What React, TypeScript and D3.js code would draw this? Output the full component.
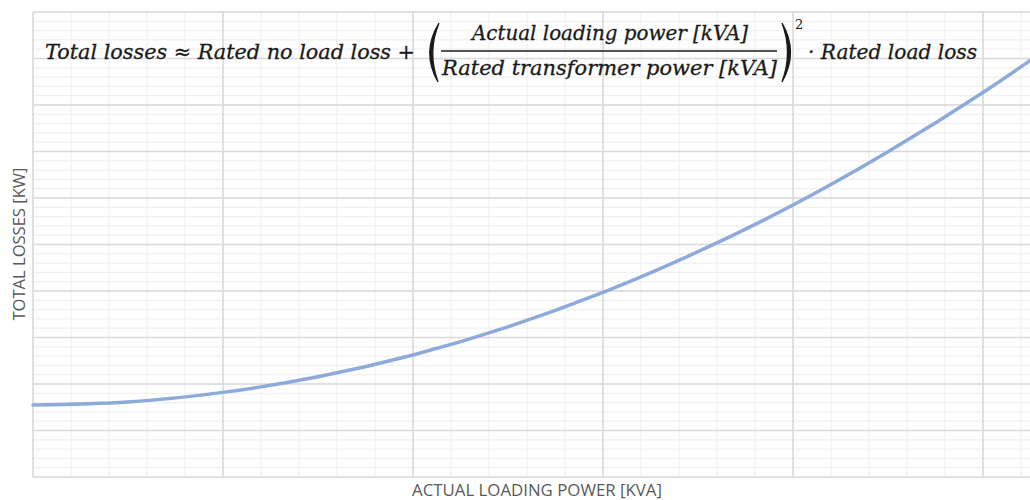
import React, { useRef, useEffect } from "react"
import * as d3 from "d3"

// actual loading power [kVA] and total losses [kW]
const loadingKVA = [0, 100, 200, 300, 400, 500, 600, 700, 800, 900, 1000, 1100]
const totalLossKW = [3.1, 3.23, 3.64, 4.31, 5.25, 6.46, 7.94, 9.69, 11.7, 13.99, 16.54, 19.36]

const xMajorTicks = d3.range(0, 1101, 200)
const xMinorTicks = d3.range(0, 1101, 40)
const yMajorTicks = d3.range(0, 20.01, 2)
const yMinorTicks = d3.range(0, 20.01, 0.4)

const xTitle = "ACTUAL LOADING POWER [KVA]"
const yTitle = "TOTAL LOSSES [KW]"

function App() {
  const ref = useRef()
  const width = 1030,
    height = 500

  useEffect(() => {
    const svg = d3.select(ref.current)
    svg.selectAll("*").remove()

    const x = d3.scaleLinear().domain([0, 1000]).range([33, 983])
    const y = d3.scaleLinear().domain([0, 20]).range([477, 12])

    const grid = svg.append("g")
    grid
      .selectAll(".vminor")
      .data(xMinorTicks)
      .join("line")
      .attr("x1", d => x(d))
      .attr("x2", d => x(d))
      .attr("y1", y(20))
      .attr("y2", y(0))
      .attr("stroke", "#f0f0f0")
      .attr("stroke-width", 1.2)
    grid
      .selectAll(".hminor")
      .data(yMinorTicks)
      .join("line")
      .attr("x1", x(0))
      .attr("x2", width)
      .attr("y1", d => y(d))
      .attr("y2", d => y(d))
      .attr("stroke", "#f0f0f0")
      .attr("stroke-width", 1.2)
    grid
      .append("g")
      .selectAll("line")
      .data(xMajorTicks)
      .join("line")
      .attr("x1", d => x(d))
      .attr("x2", d => x(d))
      .attr("y1", y(20))
      .attr("y2", y(0))
      .attr("stroke", "#d9d9d9")
      .attr("stroke-width", 1.5)
    grid
      .append("g")
      .selectAll("line")
      .data(yMajorTicks)
      .join("line")
      .attr("x1", x(0))
      .attr("x2", width)
      .attr("y1", d => y(d))
      .attr("y2", d => y(d))
      .attr("stroke", "#d9d9d9")
      .attr("stroke-width", 1.5)

    const line = d3
      .line()
      .x((d, i) => x(loadingKVA[i]))
      .y(d => y(d))
      .curve(d3.curveMonotoneX)

    svg
      .append("path")
      .datum(totalLossKW)
      .attr("d", line)
      .attr("fill", "none")
      .attr("stroke", "#8eaadb")
      .attr("stroke-width", 3.5)
      .attr("stroke-linecap", "round")

    // axis titles
    svg
      .append("text")
      .attr("x", 537)
      .attr("y", 496)
      .attr("text-anchor", "middle")
      .attr("font-family", "'Open Sans', sans-serif")
      .attr("font-size", 15.5)
      .attr("fill", "#595959")
      .attr("textLength", 250)
      .attr("lengthAdjust", "spacingAndGlyphs")
      .text(xTitle)
    svg
      .append("text")
      .attr("transform", "translate(25,244) rotate(-90)")
      .attr("text-anchor", "middle")
      .attr("font-family", "'Open Sans', sans-serif")
      .attr("font-size", 15.5)
      .attr("fill", "#595959")
      .attr("textLength", 153)
      .attr("lengthAdjust", "spacingAndGlyphs")
      .text(yTitle)

    // formula
    const f = svg
      .append("g")
      .attr("font-family", "'DejaVu Serif', serif")
      .attr("font-style", "italic")
      .attr("fill", "#1a1a1a")
    const piece = (txt, px, py, len, size) =>
      f
        .append("text")
        .attr("x", px)
        .attr("y", py)
        .attr("font-size", size)
        .attr("stroke", "#1a1a1a")
        .attr("stroke-width", 0.3)
        .attr("textLength", len)
        .attr("lengthAdjust", "spacingAndGlyphs")
        .text(txt)
    piece("Total losses ≈ Rated no load loss +", 45, 59, 370, 21)
    piece("Actual loading power [kVA]", 472, 40, 276, 21)
    piece("Rated transformer power [kVA]", 442, 75, 335, 21)
    piece("· Rated load loss", 808, 59, 169, 21)
    f.append("text")
      .attr("x", 795)
      .attr("y", 29)
      .attr("font-size", 13)
      .attr("font-style", "normal")
      .text("2")

    f.append("line")
      .attr("x1", 441)
      .attr("x2", 777)
      .attr("y1", 51)
      .attr("y2", 51)
      .attr("stroke", "#1a1a1a")
      .attr("stroke-width", 1.6)

    // parentheses
    f.append("path")
      .attr("d", "M439,23 Q421,52 438,82 Q427,52 439,23 Z")
      .attr("stroke", "#1a1a1a")
      .attr("stroke-width", 1.3)
    f.append("path")
      .attr("d", "M782,23 Q799,52 782,82 Q793,52 782,23 Z")
      .attr("stroke", "#1a1a1a")
      .attr("stroke-width", 1.3)
  }, [])

  return (
    <svg
      ref={ref}
      width={width}
      height={height}
      style={{ position: "absolute", left: 0, top: 0, background: "#fff" }}
    />
  )
}

export default App
